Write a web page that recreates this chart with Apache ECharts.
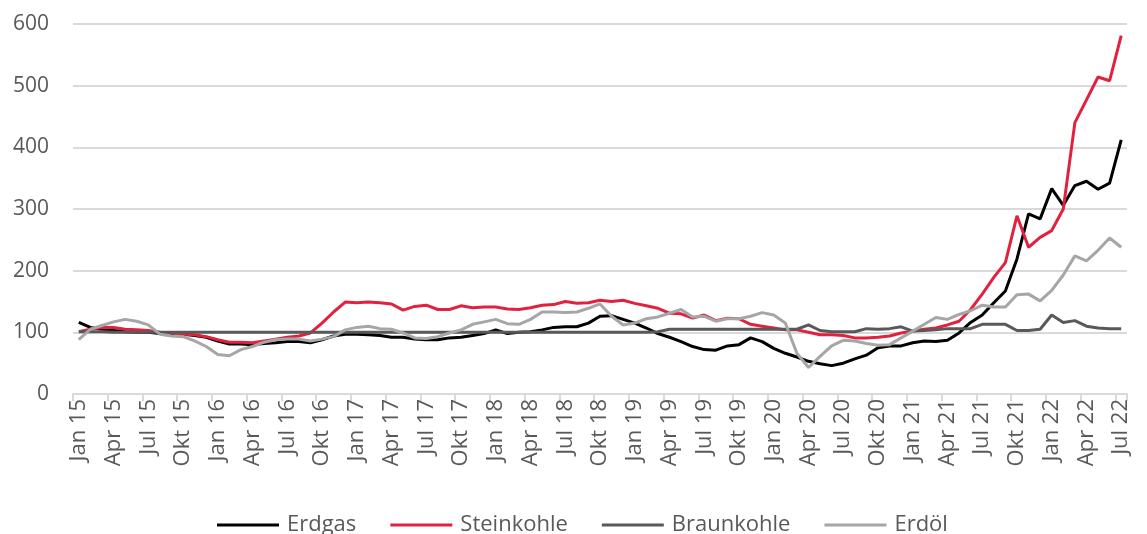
<!DOCTYPE html>
<html>
<head>
<meta charset="utf-8">
<script src="https://cdn.jsdelivr.net/npm/echarts@6/dist/echarts.min.js"></script>
<style>
html,body{margin:0;padding:0;background:#fff;}
#chart{width:1147px;height:534px;}
</style>
</head>
<body>
<div id="chart"></div>
<script>
const monthNames = ['Jan','Feb','Mrz','Apr','Mai','Jun','Jul','Aug','Sep','Okt','Nov','Dez'];
const years = ['15','16','17','18','19','20','21','22'];
const categories = [];
for (const y of years) for (const m of monthNames) categories.push(m + ' ' + y);
categories.length = 91; // Jan 15 .. Jul 22

const erdgas = [116,108,105,103,101,100,100,98,98,97,95,92,
  86,81,81,80,82,83,85,85,83,88,94,97,
  97,96,95,92,92,89,88,88,91,92,95,98,
  104,98,100,101,104,108,109,109,115,126,127,121,
  115,107,98,92,85,77,72,71,78,80,91,85,
  74,66,60,53,49,46,50,57,63,75,78,78,
  83,86,85,87,99,116,128,148,167,219,292,284,
  333,306,338,345,332,342,412];

const steinkohle = [101,105,108,108,105,104,103,100,99,97,96,93,
  88,84,84,83,86,89,92,94,99,115,133,149,
  148,149,148,146,136,142,144,137,137,143,140,141,
  141,138,137,140,144,145,150,147,148,152,150,152,
  147,143,139,131,130,123,128,119,123,122,113,110,
  107,104,104,100,96,96,95,91,91,92,94,99,
  102,105,107,112,118,137,162,189,213,289,238,254,
  265,300,440,477,514,508,581];

const braunkohle = [101,101,101,100,100,100,100,100,100,100,100,100,
  100,100,100,100,100,100,100,100,100,100,100,100,
  100,100,100,100,100,100,100,100,100,100,100,100,
  100,100,100,100,100,100,100,100,100,100,100,100,
  100,100,101,105,105,105,105,105,105,105,105,105,
  105,105,105,112,103,101,101,101,106,105,106,109,
  102,103,104,106,106,106,113,113,113,103,103,105,
  128,116,119,110,107,106,106];

const erdoel = [88,105,111,117,121,118,112,97,94,93,86,77,
  64,62,72,77,84,88,89,89,86,89,93,104,
  108,110,106,105,99,91,90,93,99,104,113,117,
  121,114,113,121,133,133,132,133,139,146,126,112,
  115,122,125,131,137,125,126,118,122,122,126,132,
  128,115,66,43,61,78,87,86,82,79,80,91,
  102,113,124,121,129,135,144,141,141,161,162,151,
  168,193,224,216,233,253,238];

const yTicks = {min: 0, max: 600, interval: 100};

const FONT = 'Open Sans';
const TXT = '#595959';

const chart = echarts.init(document.getElementById('chart'), null, {renderer: 'canvas'});
function line(name, data, color, width) {
  return {name, type: 'line', data, showSymbol: false, symbol: 'none',
    lineStyle: {color, width}, itemStyle: {color}, animation: false};
}
chart.setOption({
  animation: false,
  backgroundColor: '#ffffff',
  grid: {left: 73, right: 20, top: 24, bottom: 140, containLabel: false},
  xAxis: {
    type: 'category', data: categories, boundaryGap: true,
    axisLine: {lineStyle: {color: '#d9d9d9', width: 2}},
    axisTick: {show: true, interval: 2, length: 7, lineStyle: {color: '#d9d9d9', width: 2}},
    axisLabel: {interval: 2, rotate: 90, color: TXT, fontFamily: FONT, fontSize: 22, margin: 5}
  },
  yAxis: {
    type: 'value', min: yTicks.min, max: yTicks.max, interval: yTicks.interval,
    axisLine: {show: false}, axisTick: {show: false},
    axisLabel: {color: TXT, fontFamily: FONT, fontSize: 21, margin: 24},
    splitLine: {lineStyle: {color: '#d9d9d9', width: 2}}
  },
  legend: {
    left: 217, top: 514, padding: 0, itemWidth: 62, itemHeight: 3, itemGap: 34,
    icon: 'rect',
    textStyle: {color: TXT, fontFamily: FONT, fontSize: 22, padding: [0,0,0,3]},
    data: ['Erdgas','Steinkohle','Braunkohle','Erdöl']
  },
  series: [
    line('Erdgas', erdgas, '#000000', 3),
    line('Steinkohle', steinkohle, '#e0223f', 3),
    line('Braunkohle', braunkohle, '#595959', 3),
    line('Erdöl', erdoel, '#a6a6a6', 3)
  ]
});
</script>
</body>
</html>
